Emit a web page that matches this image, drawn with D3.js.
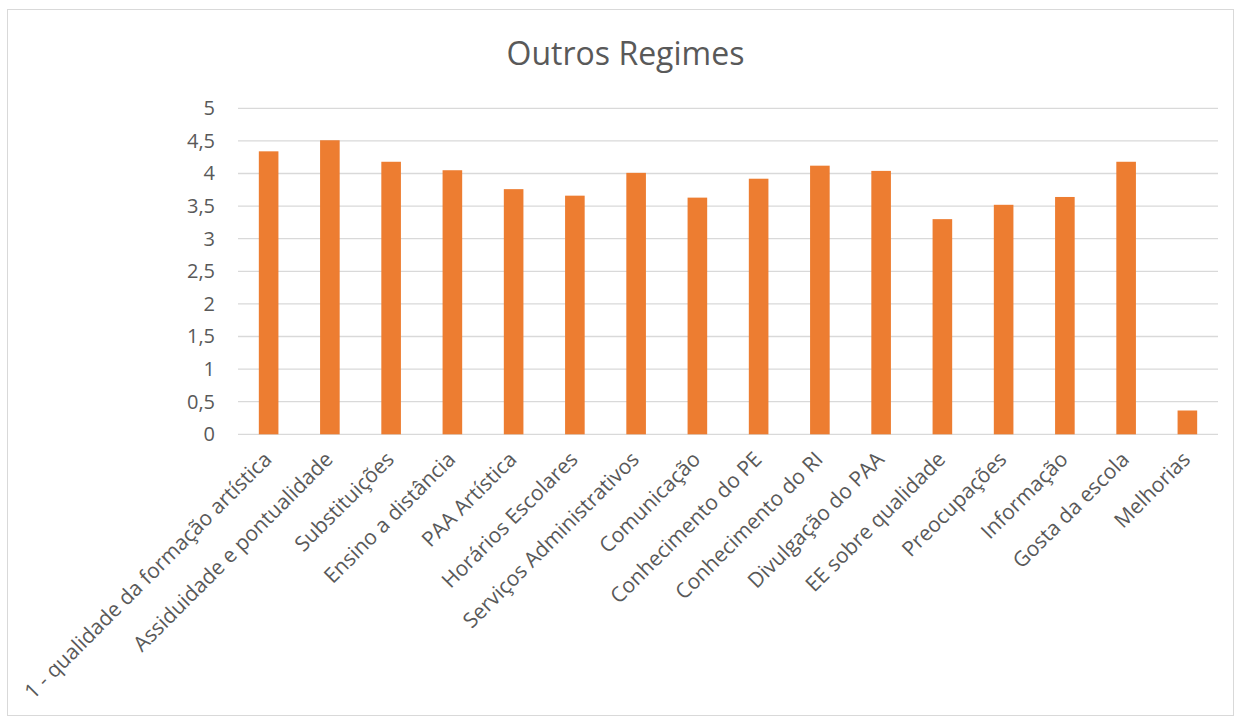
<!DOCTYPE html>
<html>
<head>
<meta charset="utf-8">
<script src="https://cdn.jsdelivr.net/npm/d3@7"></script>
<style>
  body { margin: 0; background: #fff; }
  text { font-family: "Open Sans", sans-serif; fill: #595959; }
</style>
</head>
<body>
<svg id="chart" width="1244" height="720"></svg>
<script>
var categories = ["1 - qualidade da formação artística", "Assiduidade e pontualidade", "Substituições",
  "Ensino a distância", "PAA Artística", "Horários Escolares", "Serviços Administrativos", "Comunicação",
  "Conhecimento do PE", "Conhecimento do RI", "Divulgação do PAA", "EE sobre qualidade", "Preocupações",
  "Informação", "Gosta da escola", "Melhorias"];
var values = [4.34, 4.51, 4.18, 4.05, 3.76, 3.66, 4.01, 3.63, 3.92, 4.12, 4.04, 3.30, 3.52, 3.64, 4.18, 0.365];
var yTicks = [0, 0.5, 1, 1.5, 2, 2.5, 3, 3.5, 4, 4.5, 5];

var margin = {top: 108.3, right: 26, bottom: 285.7, left: 238};
var width = 1244 - margin.left - margin.right,
    height = 720 - margin.top - margin.bottom;

var svg = d3.select("#chart");

// chart border
svg.append("rect")
  .attr("x", 7.5).attr("y", 9.5)
  .attr("width", 1226).attr("height", 706)
  .attr("fill", "none").attr("stroke", "#d9d9d9");

svg.append("text")
  .attr("x", 625.5).attr("y", 65)
  .attr("text-anchor", "middle")
  .style("font-size", "32px")
  .text("Outros Regimes");

var g = svg.append("g").attr("transform", "translate(" + margin.left + "," + margin.top + ")");

var x = d3.scaleBand()
  .domain(categories)
  .range([0, width])
  .paddingInner(0.68)
  .paddingOuter(0.34);

var y = d3.scaleLinear()
  .domain([0, 5])
  .range([height, 0]);

var fmt = function(d) { return String(d).replace(".", ","); };

// gridlines
g.append("g")
  .selectAll("line")
  .data(yTicks)
  .enter().append("line")
    .attr("x1", 0).attr("x2", width)
    .attr("y1", function(d) { return y(d); })
    .attr("y2", function(d) { return y(d); })
    .attr("stroke", "#d9d9d9")
    .attr("stroke-width", 1.3);

var yAxis = g.append("g")
  .call(d3.axisLeft(y).tickValues(yTicks).tickFormat(fmt).tickSize(0).tickPadding(23));
yAxis.select(".domain").remove();
yAxis.selectAll("text").style("font-size", "20px").attr("fill", "#595959");

g.selectAll(".bar")
  .data(values)
  .enter().append("rect")
    .attr("class", "bar")
    .attr("x", function(d, i) { return x(categories[i]); })
    .attr("y", function(d) { return y(d); })
    .attr("width", x.bandwidth())
    .attr("height", function(d) { return height - y(d); })
    .attr("fill", "#ed7d31");

var xAxis = g.append("g")
  .attr("transform", "translate(0," + height + ")")
  .call(d3.axisBottom(x).tickSize(0));
xAxis.select(".domain").remove();
xAxis.selectAll("text")
  .style("font-size", "21px")
  .attr("fill", "#595959")
  .attr("text-anchor", "end")
  .attr("dy", "0.35em")
  .attr("transform", "translate(-3,19) rotate(-45)");
</script>
</body>
</html>
